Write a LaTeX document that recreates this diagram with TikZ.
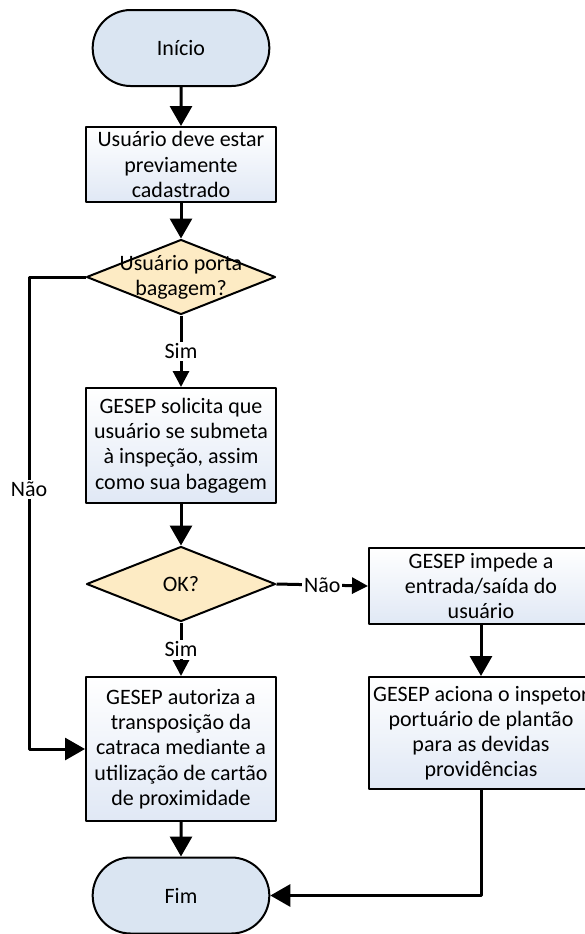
\documentclass[tikz,border=0pt]{standalone}
\usepackage{fontspec}
\setmainfont{Carlito}
\usetikzlibrary{shapes.geometric,shapes.misc,arrows.meta}

\definecolor{termfill}{HTML}{DAE5F2}
\definecolor{decfill}{HTML}{FDEBC4}
\definecolor{procfill}{HTML}{E0E8F5}

\tikzset{
	term/.style={rounded rectangle, draw, line width=1pt, fill=termfill, minimum width=95pt, minimum height=38pt},
	proc/.style={rectangle, draw, line width=1pt, shading=axis, shading angle=45, top color=white, bottom color=procfill, align=center, inner sep=1pt, minimum width=95pt},
	dec/.style={diamond, draw, line width=1pt, fill=decfill, minimum width=94.5pt, minimum height=37.5pt, inner sep=0pt},
	dectext/.style={align=center, inner sep=0pt},
	arr/.style={-{Triangle[length=10pt,width=11pt]}, line width=1.5pt},
	arrs/.style={-{Triangle[length=8pt,width=8pt]}, line width=1.5pt},
	lbl/.style={fill=white, inner sep=1pt}
}

\begin{document}
\begin{tikzpicture}[x=0.5pt, y=-0.5pt, font=\fontsize{11}{12.6}\selectfont, line join=round]
		\useasboundingbox (0,0) rectangle (585,934);
		
		% main column
		\node[term] (inicio) at (181,48) {Início};
		\node[proc, minimum height=37.5pt] (cadastro) at (181,164.5) {Usuário deve estar\\previamente\\cadastrado};
		\node[dec] (bagagem) at (181,277) {};
		\node[dectext] (bagagemtxt) at (bagagem) {Usuário porta\\bagagem?};
		\node[proc, minimum height=57.5pt] (inspecao) at (181,445.5) {GESEP solicita que\\usuário se submeta\\à inspeção, assim\\como sua bagagem};
		\node[dec] (ok) at (181,584) {};
		\node[dectext] (oktxt) at (ok) {OK?};
		\node[proc, minimum height=72pt] (autoriza) at (181,749) {GESEP autoriza a\\transposição da\\catraca mediante a\\utilização de cartão\\de proximidade};
		\node[term] (fim) at (181,895.5) {Fim};
		
		% right column
		\node[proc, minimum width=112pt, minimum height=38pt] (impede) at (481,586) {GESEP impede a\\entrada/saída do\\usuário};
		\node[proc, minimum width=112pt, minimum height=56pt] (aciona) at (481,733) {GESEP aciona o inspetor\\portuário de plantão\\para as devidas\\providências};
		
		% connectors
		\draw[arr] (inicio) -- (cadastro);
		\draw[arr] (cadastro) -- (bagagem);
		\draw[arrs] (bagagem.south) -- node[lbl] (sim1) {Sim} (inspecao.north);
		\draw[arr] (inspecao) -- (ok);
		\draw[arrs] (ok.south) -- node[lbl] (sim2) {Sim} (autoriza.north);
		\draw[arrs] (ok.east) -- node[lbl] (nao2) {Não} (impede.west);
		\draw[arr] (bagagem.west) -- ++(-56.5,0) |- node[lbl, pos=0.225] (nao1) {Não} (autoriza.west);
		\draw[arr] (autoriza) -- (fim);
		\draw[arr] (impede) -- (aciona);
		\draw[arr] (aciona.south) |- (fim.east);
		
\end{tikzpicture}
\end{document}
